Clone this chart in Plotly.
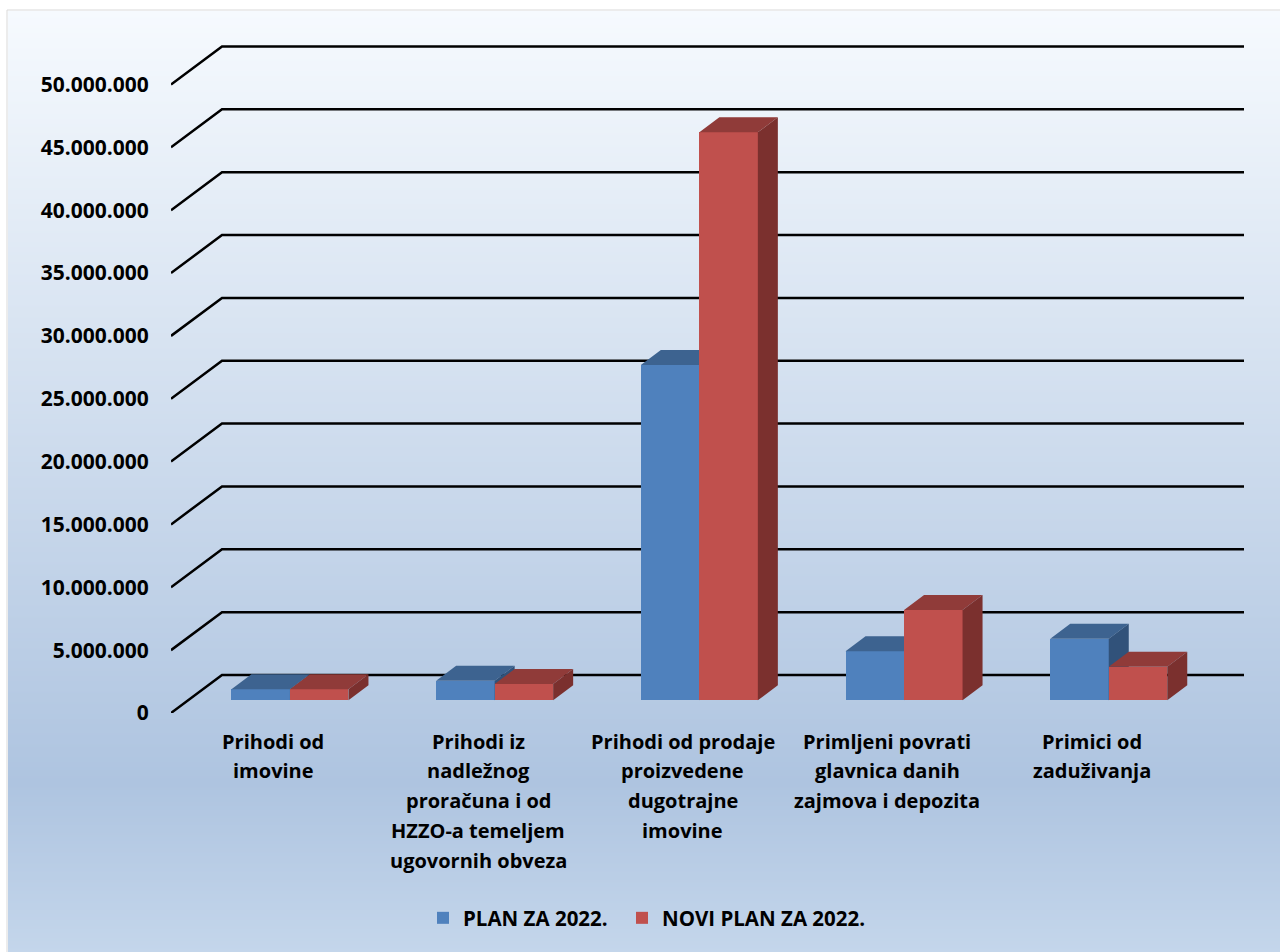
import numpy as np
import plotly.graph_objects as go

categories = [
    "Prihodi od<br>imovine",
    "Prihodi iz<br>nadležnog<br>proračuna i od<br>HZZO-a temeljem<br>ugovornih obveza",
    "Prihodi od prodaje<br>proizvedene<br>dugotrajne<br>imovine",
    "Primljeni povrati<br>glavnica danih<br>zajmova i depozita",
    "Primici od<br>zaduživanja",
]
plan_2022 = [875000, 1560000, 26670000, 3900000, 4900000]
novi_plan_2022 = [875000, 1300000, 45190000, 7180000, 2670000]
tick_values = [0, 5000000, 10000000, 15000000, 20000000, 25000000,
               30000000, 35000000, 40000000, 45000000, 50000000]
tick_labels = ["0", "5.000.000", "10.000.000", "15.000.000", "20.000.000", "25.000.000",
               "30.000.000", "35.000.000", "40.000.000", "45.000.000", "50.000.000"]
series_names = ["PLAN ZA 2022.", "NOVI PLAN ZA 2022."]

W, H = 1280, 952
FONT = "Open Sans"
FS = 20
# pixel geometry of the projected plot
LEFT, RIGHT, Y0, YTOP = 171, 1244, 713, 40
CAT_PX = 204.7
PX_PER_UNIT = 12.57 / 1e6
x_range = [-0.5, -0.5 + (RIGHT - LEFT) / CAT_PX]
y_range = [0, (Y0 - YTOP) / PX_PER_UNIT]
x_dom = [LEFT / W, RIGHT / W]
y_dom = [1 - Y0 / H, 1 - YTOP / H]


def px_x(p):
    return p / CAT_PX


def px_y(p):
    return p / PX_PER_UNIT


GRID_DX, GRID_DY = px_x(51), px_y(38)
BAR_DX, BAR_DY = px_x(20), px_y(15)
SHIFT_X, BASE = px_x(16.6), px_y(12.7)
BW = px_x(58.5)

fig = go.Figure()

# background gradient (full chart frame)
t = np.linspace(0, 1, 300)
fig.add_trace(go.Heatmap(
    x=[0, 1], y=t, z=np.column_stack([t, t]), xaxis="x", yaxis="y",
    colorscale=[[0, "#C4D6EB"], [0.18, "#AEC4E0"], [1, "#F6FAFE"]],
    showscale=False, hoverinfo="skip", zsmooth="best",
))

# perspective gridlines
gx, gy = [], []
for v in tick_values:
    gx += [x_range[0], x_range[0] + GRID_DX, x_range[1], None]
    gy += [v, v + GRID_DY, v + GRID_DY, None]
fig.add_trace(go.Scatter(x=gx, y=gy, mode="lines", xaxis="x2", yaxis="y2",
                         line=dict(color="#000000", width=2.5),
                         showlegend=False, hoverinfo="skip"))


def add_series(values, name, offset, front, top, side, ax, legend):
    xs = [i + SHIFT_X + offset for i in range(len(values))]
    fig.add_trace(go.Bar(
        x=xs, y=values, base=BASE, width=BW, name=name,
        marker=dict(color=front, line=dict(width=0)),
        xaxis="x" + ax, yaxis="y" + ax, legend=legend, hoverinfo="skip",
    ))
    tx, ty, sx, sy = [], [], [], []
    for x, v in zip(xs, values):
        l, r, tp = x - BW / 2, x + BW / 2, BASE + v
        tx += [l, r, r + BAR_DX, l + BAR_DX, l, None]
        ty += [tp, tp, tp + BAR_DY, tp + BAR_DY, tp, None]
        sx += [r, r + BAR_DX, r + BAR_DX, r, r, None]
        sy += [tp, tp + BAR_DY, BASE + BAR_DY, BASE, tp, None]
    for a, b, c in ((tx, ty, top), (sx, sy, side)):
        fig.add_trace(go.Scatter(
            x=a, y=b, mode="lines", fill="toself", fillcolor=c,
            line=dict(width=0, color=c), xaxis="x" + ax, yaxis="y" + ax,
            showlegend=False, hoverinfo="skip",
        ))


add_series(plan_2022, series_names[0], -BW / 2, "#4F81BD", "#3D6390", "#31527A", "3", "legend")
add_series(novi_plan_2022, series_names[1], BW / 2, "#C0504D", "#903B39", "#7B302E", "4", "legend2")

# category labels, one text per line for the original line pitch
notes = []
for i, c in enumerate(categories):
    for k, line in enumerate(c.split("<br>")):
        notes.append(dict(
            x=i, xref="x2", y=1 - (741 + 29.9 * k) / H, yref="paper",
            text=line, showarrow=False, xanchor="center", yanchor="middle",
            font=dict(family=FONT, size=FS, color="#000000", weight=700),
        ))

legend_font = dict(family=FONT, size=20.5, color="#000000", weight=700)
hidden = dict(visible=False, fixedrange=True, automargin=False)
fig.update_layout(
    template="none",
    width=W, height=H, autosize=False,
    margin=dict(l=0, r=0, t=0, b=0, pad=0, autoexpand=False),
    paper_bgcolor="#FFFFFF", plot_bgcolor="rgba(0,0,0,0)",
    barmode="overlay", bargap=0,
    xaxis=dict(domain=[8 / W, 1], range=[0, 1], anchor="y", **hidden),
    yaxis=dict(domain=[0, 1 - 11 / H], range=[0, 1], anchor="x", **hidden),
    xaxis2=dict(domain=x_dom, range=x_range, anchor="y2", showgrid=False, zeroline=False,
                showticklabels=False, ticks="", showline=False, fixedrange=True, automargin=False),
    yaxis2=dict(domain=y_dom, range=y_range, anchor="x2", showgrid=False, zeroline=False,
                showline=False, tickmode="array", tickvals=tick_values, ticktext=tick_labels,
                ticks="outside", ticklen=17, tickcolor="rgba(0,0,0,0)", fixedrange=True,
                automargin=False,
                tickfont=dict(family=FONT, size=21, color="#000000", weight=700)),
    xaxis3=dict(domain=x_dom, range=x_range, anchor="y3", **hidden),
    yaxis3=dict(domain=y_dom, range=y_range, anchor="x3", **hidden),
    xaxis4=dict(domain=x_dom, range=x_range, anchor="y4", **hidden),
    yaxis4=dict(domain=y_dom, range=y_range, anchor="x4", **hidden),
    legend=dict(x=423 / W, y=1 - 918 / H, xanchor="left", yanchor="middle",
                bgcolor="rgba(0,0,0,0)", borderwidth=0, font=legend_font),
    legend2=dict(x=622 / W, y=1 - 918 / H, xanchor="left", yanchor="middle",
                 bgcolor="rgba(0,0,0,0)", borderwidth=0, font=legend_font),
    annotations=notes,
    shapes=[dict(type="rect", xref="paper", yref="paper", x0=7 / W, x1=1.01, y0=-0.01,
                 y1=1 - 10 / H, line=dict(color="#D9D9D9", width=1), layer="below")],
    showlegend=True,
)

fig.write_html("out.html", config={"displayModeBar": False},
               post_script="document.body.style.margin='0';")
